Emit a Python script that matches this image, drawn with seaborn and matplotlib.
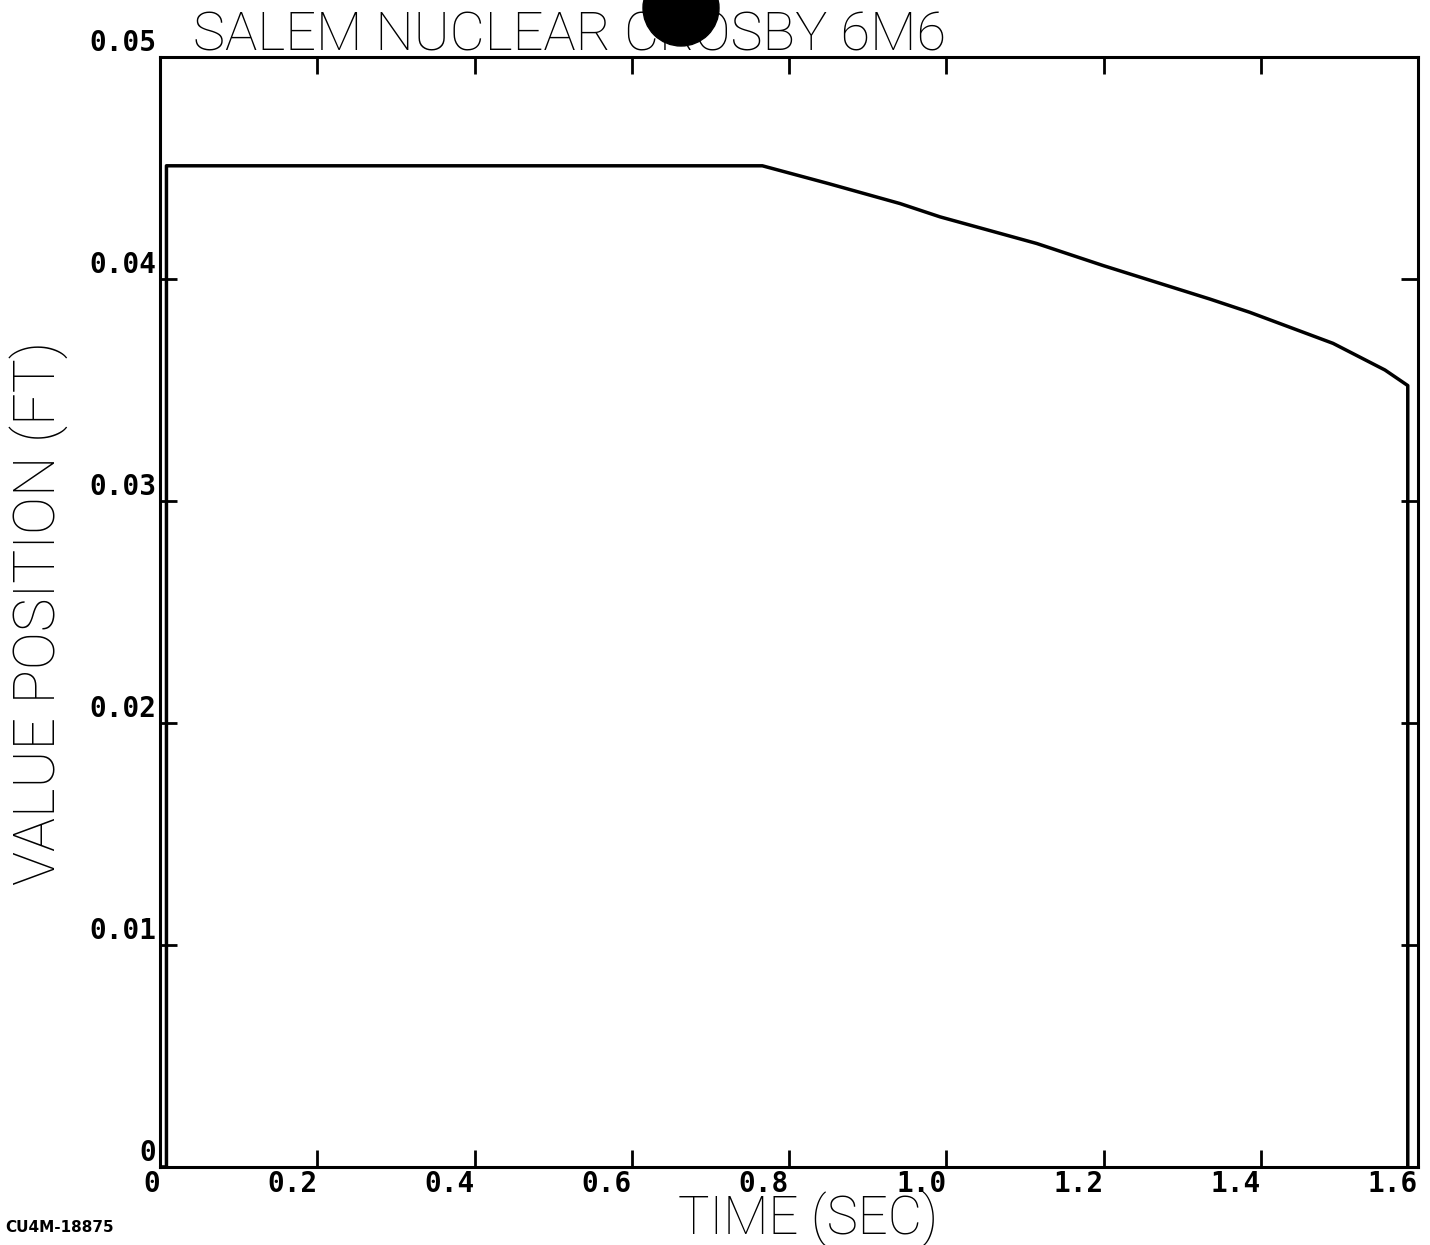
import numpy as np
import pandas as pd
import seaborn as sns
import matplotlib.pyplot as plt
from matplotlib.patches import Circle

# valve position trace
time_sec = [0.0, 0.008, 0.008, 0.766, 0.85, 0.941, 0.992, 1.115, 1.2, 1.335, 1.386, 1.492, 1.558, 1.587, 1.587]
position_ft = [0.0, 0.0, 0.0451, 0.0451, 0.0443, 0.0434, 0.0428, 0.0416, 0.0406, 0.0391, 0.0385, 0.0371, 0.0359, 0.0352, 0.0]

xticks = [0.0, 0.2, 0.4, 0.6, 0.8, 1.0, 1.2, 1.4, 1.6]
xtick_labels = ['0', '0.2', '0.4', '0.6', '0.8', '1.0', '1.2', '1.4', '1.6']
yticks = [0.0, 0.01, 0.02, 0.03, 0.04, 0.05]
ytick_labels = ['0', '0.01', '0.02', '0.03', '0.04', '0.05']

df = pd.DataFrame({'time': time_sec, 'pos': position_ft})

sns.set_style('white')
plt.rcParams['text.color'] = 'black'

fig = plt.figure(figsize=(14.3, 12.45), dpi=100)
ax = fig.add_axes([0.112, 0.0627, 0.8796, 0.8915])

sns.lineplot(data=df, x='time', y='pos', sort=False, estimator=None,
             color='black', linewidth=2.5, ax=ax)

ax.set_xlim(0, 1.6)
ax.set_ylim(0, 0.05)
ax.set_xlabel('')
ax.set_ylabel('')

for s in ax.spines.values():
    s.set_color('black')
    s.set_linewidth(2.2)

ax.set_xticks(xticks)
ax.set_xticklabels(xtick_labels, family='DejaVu Sans Mono', fontweight='bold', fontsize=20,
                   ha='right', color='black')
ax.set_yticks(yticks)
ax.set_yticklabels(ytick_labels, family='DejaVu Sans Mono', fontweight='bold', fontsize=20,
                   va='bottom', color='black')
ax.tick_params(axis='both', direction='in', length=12, width=2, color='black',
               top=True, right=True, bottom=True, left=True, pad=3)
ax.tick_params(axis='x', pad=2)

lbl = dict(family=['Roboto', 'DejaVu Sans'], fontweight='light', color='black')
fig.text(0.3986, 0.9715, 'SALEM NUCLEAR CROSBY 6M6', fontsize=39, ha='center', va='center', **lbl)
fig.text(0.565, 0.0085, 'TIME (SEC)', fontsize=38, ha='center', va='baseline', **lbl)
fig.text(0.027, 0.508, 'VALUE POSITION (FT)', fontsize=41, rotation=90,
         ha='center', va='center', **lbl)
fig.text(0.004, 0.008, 'CU4M-18875', fontsize=11, fontweight='heavy', ha='left', va='bottom')

# scan artifact (hole punch) over the title
fig.patches.append(Circle((681, 1245 - 8), 38, transform=None, color='black', zorder=10))

fig.savefig('out.png', dpi=100)
